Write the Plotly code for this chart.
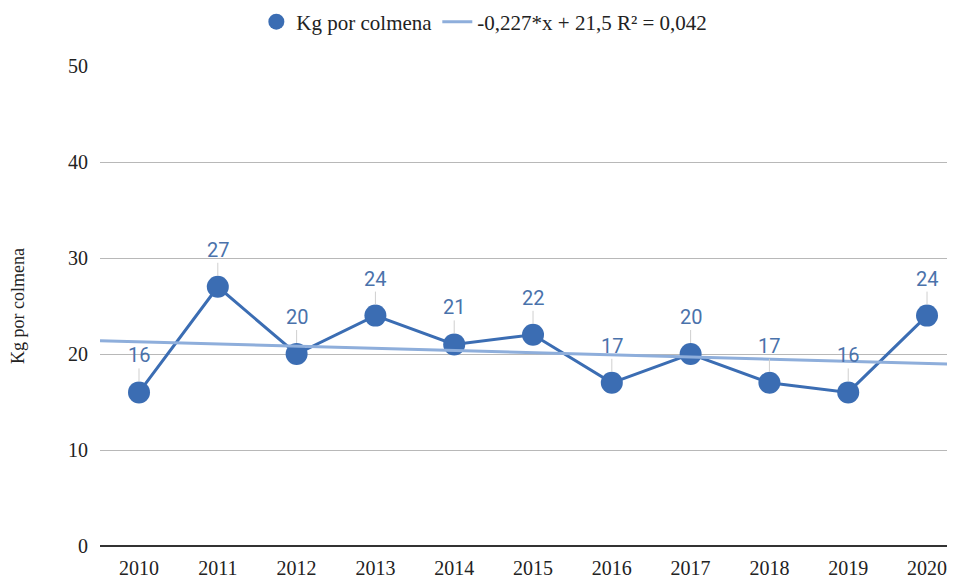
import plotly.graph_objects as go

years = [2010, 2011, 2012, 2013, 2014, 2015, 2016, 2017, 2018, 2019, 2020]
kg = [16, 27, 20, 24, 21, 22, 17, 20, 17, 16, 24]
slope = -0.227
intercept = 21.5
trend_name = "-0,227*x + 21,5 R² = 0,042"
series_name = "Kg por colmena"
y_ticks = [0, 10, 20, 30, 40, 50]

x_lo, x_hi = 2009.505, 2020.355
tx = [x_lo, x_hi]
ty = [slope * (v - years[0] + 1) + intercept for v in tx]

serif = "Liberation Serif, Times New Roman, serif"
blue = "#3b6db3"
txt = "#222222"

fig = go.Figure()
fig.add_trace(go.Scatter(x=years, y=kg, mode="lines+markers", name=series_name,
                         showlegend=False,
                         line=dict(color=blue, width=3),
                         marker=dict(color=blue, size=22)))
fig.add_trace(go.Scatter(x=[None], y=[None], mode="markers", name=series_name,
                         marker=dict(color=blue, size=20)))
fig.add_trace(go.Scatter(x=tx, y=ty, mode="lines", name=trend_name,
                         line=dict(color="#8eaedb", width=3)))

for xv, yv in zip(years, kg):
    fig.add_annotation(x=xv, y=yv, text=str(yv), showarrow=True, arrowhead=0,
                       arrowwidth=1, arrowcolor="#cfcfcf", ax=0, ay=-24,
                       standoff=11, font=dict(family="Roboto", size=20, color="#4a72ab"),
                       yanchor="bottom", borderpad=0)

fig.update_layout(
    width=947, height=573,
    margin=dict(l=92, r=0, t=58, b=35),
    paper_bgcolor="white", plot_bgcolor="white",
    font=dict(family=serif, size=20, color=txt),
    showlegend=True,
    legend=dict(orientation="h", x=0.503, xanchor="center", xref="container",
                y=1 - 14 / 573, yanchor="middle", yref="container",
                font=dict(family=serif, size=21, color=txt),
                itemwidth=30, itemsizing="trace"),
)
fig.update_xaxes(range=[x_lo, x_hi], tickmode="array", tickvals=years, automargin=False,
                 ticktext=[str(y) for y in years], showgrid=False, zeroline=False,
                 showline=False, ticks="", ticklabelstandoff=8,
                 tickfont=dict(family=serif, size=20, color=txt))
fig.update_yaxes(range=[0, 50], tickvals=y_ticks, showgrid=True, gridcolor="#b8b8b8",
                 gridwidth=1, zeroline=True, zerolinecolor="#333333", zerolinewidth=2,
                 ticks="", ticklabelstandoff=11, automargin=False,
                 tickfont=dict(family=serif, size=20, color=txt),
                 title=dict(text=series_name, font=dict(family=serif, size=18, color=txt),
                            standoff=46))

fig.write_html("out.html")
